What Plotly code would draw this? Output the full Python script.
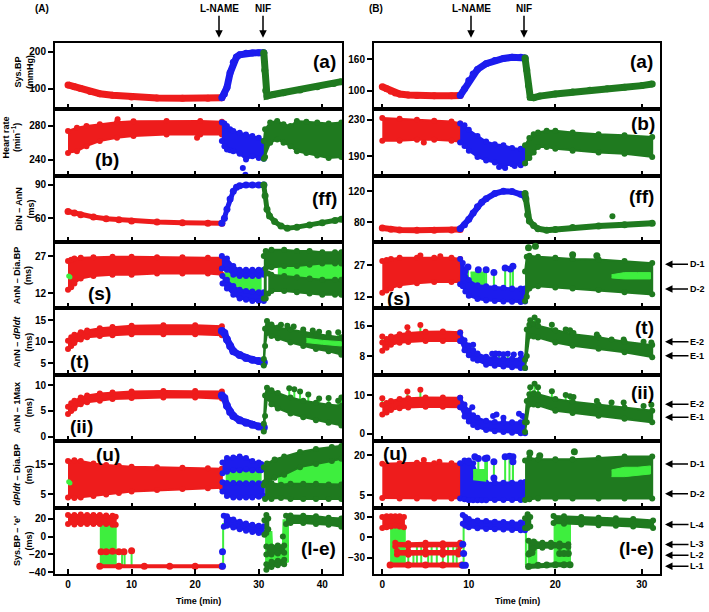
import plotly.graph_objects as go

W, H = 709, 612
RED, BLUE, DG, LG = '#EE1C1C', '#1C1CEE', '#1F7A1F', '#3EEE3E'
FONT = 'Liberation Sans'

# ======================= DATA : column (A) =======================
# (a) Sys.BP
Aa_red_t = [0, 1, 2, 3.5, 5, 7, 10, 14, 18, 22, 24.2]
Aa_red_y = [110, 105, 100, 92, 86, 82, 77, 74.5, 74, 74, 75]
Aa_blue_t = [24.2, 24.6, 25, 25.5, 26, 26.5, 27, 28, 29, 30, 30.8]
Aa_blue_y = [75, 85, 103, 143, 172, 186, 192, 196, 197, 198, 198]
Aa_green_t = [30.8, 30.95, 31.1, 31.3, 32.3, 33.9, 36.5, 39.2, 41.8, 43]
Aa_green_y = [198, 150, 95, 80, 84, 89, 96, 105, 114, 119]
# (b) Heart rate
Ab_red_t = [0, 1.4, 2.9, 5, 7.7, 10.3, 15.5, 20.8, 24.2]
Ab_red_lo = [248, 250, 256, 262, 266, 268, 270, 270, 270]
Ab_red_hi = [274, 278, 280, 282, 284.5, 285.5, 286, 286, 285]
Ab_red_dot_t = [7.8, 20.3]
Ab_red_dot_y = [288, 266]
Ab_blue_t = [24.2, 24.6, 25, 25.5, 26, 27, 28, 29, 30, 30.8]
Ab_blue_lo = [262, 256, 252, 251, 250, 247, 240, 244, 242, 241]
Ab_blue_hi = [284, 283, 280, 276, 274, 272, 270, 268, 266, 262]
Ab_blue_dot_t = [27.5, 27.9]
Ab_blue_dot_y = [230, 222]
Ab_green_t = [30.8, 31, 31.8, 32.9, 33.9, 35, 36, 37.5, 39.2, 41, 43]
Ab_green_lo = [241, 243, 260, 264, 260, 256, 250, 248, 245, 242, 243]
Ab_green_hi = [262, 276, 284, 286, 282, 280, 286, 285, 284, 283, 284]
# (ff) DiN - AnN
Aff_red_t = [0, 1, 2, 4, 6, 8, 10, 14, 18, 22, 24.2]
Aff_red_y = [66, 64.5, 63, 61, 59.5, 58.5, 57.5, 56.5, 56, 55.5, 55.5]
Aff_blue_t = [24.2, 24.6, 25, 25.5, 26, 26.5, 27, 28, 29, 30, 30.8]
Aff_blue_y = [55.5, 60, 68, 77, 84, 87.5, 89, 89.5, 89.5, 89.5, 89.5]
Aff_green_t = [30.8, 31, 31.3, 31.7, 32.5, 33.5, 34.5, 36, 38, 40, 42, 43]
Aff_green_y = [89.5, 80, 68, 62, 57, 53, 51, 52, 54, 56, 58, 59]
# (s) AnN - Dia.BP
As_red_t = [0, 0.5, 1, 2, 4, 7, 10, 14, 18, 22, 24.2]
As_red_lo = [13.5, 14.5, 16, 18, 19, 19.5, 19.5, 20, 20, 20, 19.5]
As_red_hi = [25, 25.5, 26, 26.3, 26.5, 26.7, 26.7, 26.5, 26.5, 26.3, 26.3]
As_lgdot_t = [0.1, 0.3]
As_lgdot_y = [19, 18.6]
As_blue_lg_t = [24.6, 26, 28, 30.3]
As_blue_lg_lo = [17, 14, 12.5, 12]
As_blue_lg_hi = [21.5, 20, 19.5, 19.5]
As_blue_up_t = [24.2, 25, 26, 27, 28, 29, 30, 30.8]
As_blue_up_lo = [22, 21.5, 19.5, 19, 19, 19, 19, 19.5]
As_blue_up_hi = [27, 26, 23, 21.5, 21.5, 21.5, 21.5, 21.5]
As_blue_low_t = [24.3, 25, 26, 27, 28, 29, 30, 30.8]
As_blue_low_lo = [16, 14, 11.5, 10, 9.5, 9, 9, 9]
As_blue_low_hi = [19, 17.5, 15, 13.5, 13, 12.8, 12.5, 12.5]
As_green_lg_t = [33, 36, 38, 40, 43]
As_green_lg_lo = [19, 18.5, 18, 17.5, 17.5]
As_green_lg_hi = [22.5, 23, 23.5, 24, 24]
As_green_v_t = [30.8, 31.1]
As_green_v_lo = [10, 10]
As_green_v_hi = [27, 27]
As_green_up_t = [31.1, 32, 34, 36, 38, 40, 42, 43]
As_green_up_lo = [22, 22.5, 23, 23, 23.5, 24, 24, 24]
As_green_up_hi = [29, 29.5, 29.5, 29, 29, 28.5, 28.5, 28.5]
As_green_low_t = [31.5, 32, 34, 36, 38, 40, 42, 43]
As_green_low_lo = [12, 13, 13, 12.5, 12, 11.5, 11.5, 11.5]
As_green_low_hi = [20, 19.5, 19, 18.5, 18, 17.5, 17.5, 17.5]
# (t) AnN - dP/dt
At_red_t = [0, 0.5, 1, 2, 3, 5, 7, 10, 15, 20, 24.2]
At_red_lo = [8.3, 9, 9.7, 10.5, 11, 11.3, 11.5, 11.7, 11.7, 11.7, 11.5]
At_red_hi = [10.2, 11, 11.6, 12.2, 12.6, 13.1, 13.4, 13.7, 13.8, 13.8, 13.6]
At_blue_t = [24.2, 24.6, 25, 25.5, 26, 27, 28, 29, 30, 30.8]
At_blue_y = [12.5, 12, 10.5, 9, 7.8, 6.9, 6.2, 5.8, 5.5, 5.2]
At_green_t = [30.8, 31, 31.3, 32, 33, 35, 37, 39, 41, 43]
At_green_lo = [4.5, 9, 12, 11.3, 10.8, 9.8, 9, 8.3, 7.8, 7]
At_green_hi = [6, 13, 14.8, 14, 13.3, 12.8, 12.2, 11.8, 11.4, 11]
At_green_dot_t = [33.5, 34.5, 35.5, 37, 38.5, 39.5, 41, 42.5]
At_green_dot_y = [13.9, 13.7, 13.5, 12.8, 12.6, 12.3, 12.0, 12.2]
At_green_dot_base = [13.2, 13.0, 12.8, 12.2, 11.9, 11.7, 11.4, 11.1]
At_green_lg_t = [37.5, 40, 43]
At_green_lg_lo = [9.8, 9.4, 9.0]
At_green_lg_hi = [10.8, 10.3, 10.0]
# (ii) AnN - 1Max
Aii_red_t = [0, 0.5, 1, 2, 3, 5, 7, 10, 15, 20, 24.2]
Aii_red_lo = [4.4, 5, 5.5, 6.3, 6.7, 7, 7.3, 7.5, 7.6, 7.6, 7.4]
Aii_red_hi = [5.8, 6.5, 7, 7.6, 8, 8.4, 8.6, 8.8, 8.9, 8.9, 8.8]
Aii_blue_t = [24.2, 24.6, 25, 25.5, 26, 27, 28, 29, 30, 30.8]
Aii_blue_y = [8, 7.5, 6, 4.8, 4, 3.2, 2.7, 2.3, 2, 1.8]
Aii_green_t = [30.8, 31, 31.3, 32, 33, 35, 37, 39, 41, 43]
Aii_green_lo = [1, 4, 7.5, 6.3, 5.5, 4.5, 3.8, 3.2, 2.7, 2.2]
Aii_green_hi = [2.5, 8, 9.5, 9, 8.5, 7.6, 7, 6.6, 6.2, 6]
Aii_green_dot_t = [34.8, 35.6, 36.5, 37.8, 39.5, 41, 42.5, 43]
Aii_green_dot_y = [9.4, 9.2, 8.8, 8.2, 7.4, 7.5, 7.0, 7.6]
Aii_green_dot_base = [7.4, 7.3, 7.1, 6.9, 6.6, 6.3, 6.1, 6.0]
# (u) dP/dt - Dia.BP
Au_red_t = [0, 1, 2, 4, 6, 8, 10, 14, 18, 22, 24.2]
Au_red_lo = [4, 3.8, 4, 4.5, 5, 5.5, 6, 6.5, 6.8, 7, 7.2]
Au_red_hi = [16, 16.3, 16, 15.2, 14.7, 14.4, 14.1, 14, 13.8, 13.6, 13.5]
Au_lgdot_t = [0.1, 0.3]
Au_lgdot_y = [9.2, 8.8]
Au_blue_lg_t = [24.8, 30.3]
Au_blue_lg_lo = [8.5, 8.5]
Au_blue_lg_hi = [13, 13]
Au_blue_up_t = [24.3, 25, 26, 27, 28, 29, 30, 30.4]
Au_blue_up_lo = [12, 12.5, 13, 13, 13.2, 13, 13, 13]
Au_blue_up_hi = [15.5, 17, 17.2, 17.5, 17, 16, 15.5, 15]
Au_blue_low_t = [24.3, 25, 26, 27, 28, 29, 30, 30.8]
Au_blue_low_lo = [6, 4.5, 4, 4, 4, 4, 4.2, 4.5]
Au_blue_low_hi = [9, 8.8, 8.8, 8.7, 8.7, 8.7, 8.7, 8.7]
Au_green_lg_t = [33, 36.5, 39, 41.5, 43]
Au_green_lg_lo = [8.5, 8.5, 8.3, 8.3, 8.3]
Au_green_lg_hi = [11, 14, 15, 16, 17]
Au_green_up_t = [30.8, 31.3, 32.5, 34, 36.5, 39, 41.5, 43]
Au_green_up_lo = [8, 9.3, 10.5, 11.5, 14, 15, 16, 16.8]
Au_green_up_hi = [14, 15.2, 16.5, 17.5, 19, 20, 20.6, 21]
Au_green_low_t = [31, 32, 33.5, 35, 37, 39, 41, 43]
Au_green_low_lo = [3.5, 3.5, 3.8, 3.5, 3.5, 3.5, 3.5, 3.5]
Au_green_low_hi = [9, 8.8, 8.2, 8.5, 8.5, 8.5, 8.3, 8.3]
# (l-e) Sys.BP - 'e'
Ale_lg1_t = [5.0, 7.5]
Ale_lg1_lo = [-33, -33]
Ale_lg1_hi = [14, 14]
Ale_stem_t = [8.5, 8.9, 10.0]
Ale_stem_lo = [-33, -33, -33]
Ale_stem_hi = [-17, -17, -16]
Ale_red_up_t = [0, 1, 2, 3, 4, 5, 6, 7, 7.5]
Ale_red_up_lo = [14, 13.5, 14, 14, 14, 14, 14, 13, 13]
Ale_red_up_hi = [24, 24, 24.5, 24, 24, 24, 23.5, 23, 22]
Ale_red_mid_t = [5.2, 6, 7, 8, 8.8]
Ale_red_mid_y = [-17, -17, -16.5, -17, -17]
Ale_red_dot_t = [10.0]
Ale_red_dot_y = [-16]
Ale_red_bot_t = [5, 8, 12, 16, 20, 24.2]
Ale_red_bot_y = [-33, -33, -33, -33, -33, -33]
Ale_bstem_t = [24.4]
Ale_bstem_lo = [-33]
Ale_bstem_hi = [15]
Ale_blue_dot_t = [24.3, 24.3]
Ale_blue_dot_y = [-17, -33]
Ale_blue_t = [24.5, 25, 26, 27, 28, 29, 30, 30.8]
Ale_blue_lo = [11, 12, 10, 8, 6.5, 5, 4, 4]
Ale_blue_hi = [23, 22.5, 19, 16.5, 14.5, 13, 12, 11.5]
Ale_lg2_t = [31, 32, 32.1, 33.8, 33.9, 34.6]
Ale_lg2_lo = [-36, -33, -33, -30, -30, -28]
Ale_lg2_hi = [5, 5, -10, -10, 18, 18]
Ale_green_blob_t = [30.9, 31.2, 31.5]
Ale_green_blob_lo = [2, 4, 8]
Ale_green_blob_hi = [18, 24, 20]
Ale_green_mid_t = [31.2, 32, 33, 34]
Ale_green_mid_lo = [-20, -20, -19, -18]
Ale_green_mid_hi = [-11, -11, -10, -10]
Ale_green_bot_t = [31.2, 32, 33, 34]
Ale_green_bot_lo = [-37, -34, -32, -31]
Ale_green_bot_hi = [-31, -28, -27, -26]
Ale_green_dot_t = [33.8]
Ale_green_dot_y = [0]
Ale_green_up_t = [34.3, 35, 37, 39, 41, 43]
Ale_green_up_lo = [14, 15, 15, 14, 13, 11]
Ale_green_up_hi = [23, 23.5, 23, 22.5, 21, 20]

# ======================= DATA : column (B) =======================
Ba_red_t = [0, 0.5, 1, 1.5, 2, 3, 4, 6, 8, 9]
Ba_red_y = [108, 104, 99, 96, 94, 92, 91, 90.5, 90.5, 91]
Ba_blue_t = [9, 9.5, 10, 10.5, 11, 12, 13, 14, 15, 16, 16.5]
Ba_blue_y = [91, 104, 120, 132, 141, 152, 158, 162, 164, 164, 163]
Ba_green_t = [16.5, 16.7, 16.9, 17.1, 17.5, 18.2, 20, 22, 24, 26, 28, 30, 31.2]
Ba_green_y = [163, 140, 110, 88, 87, 90, 94, 98, 101, 104, 107, 110, 113]

Bb_red_t = [0, 2, 4, 6, 8, 9]
Bb_red_lo = [207, 207, 208, 208, 207, 206]
Bb_red_hi = [232, 231, 230, 229, 228, 226]
Bb_red_dot_t = [4.8]
Bb_red_dot_y = [205]
Bb_blue_t = [9, 9.5, 10, 11, 12, 13, 14, 15, 16, 16.5]
Bb_blue_lo = [205, 201, 196, 189, 185, 183, 179, 181, 180, 182]
Bb_blue_hi = [226, 224, 219, 212, 206, 203, 202, 199, 198, 197]
Bb_blue_dot_t = [13.5, 14.2, 15.3]
Bb_blue_dot_y = [178, 177, 179]
Bb_green_t = [16.5, 17, 17.5, 18, 19, 20, 22, 25, 28, 31.2]
Bb_green_lo = [182, 188, 194, 200, 200, 198, 196, 194, 192.5, 189]
Bb_green_hi = [202, 210, 214, 216, 218, 218, 216, 214, 213, 211]

Bff_red_t = [0, 1, 2, 4, 6, 8, 9]
Bff_red_y = [73, 71.5, 70.5, 70, 70, 70.5, 71]
Bff_blue_t = [9, 9.5, 10, 10.5, 11, 11.5, 12, 13, 14, 15, 16, 16.5]
Bff_blue_y = [72, 77, 84, 92, 100, 106, 110.5, 117, 120, 119.5, 116, 113]
Bff_green_t = [16.5, 16.6, 16.8, 17, 17.5, 18, 19, 20, 22, 25, 28, 31.2]
Bff_green_y = [117, 110, 90, 82, 76, 72, 70, 71, 73.5, 75.5, 77, 79]
Bff_green_dot_t = [26.6]
Bff_green_dot_y = [88]

Bs_red_t = [0, 0.5, 1, 2, 4, 6, 8, 9]
Bs_red_lo = [14, 15, 16, 17.5, 18.5, 19, 19, 19]
Bs_red_hi = [29, 29.5, 30, 30.5, 30.5, 30.5, 30.5, 30]
Bs_red_dot_t = [4.4, 6.7]
Bs_red_dot_y = [31.6, 31.2]
Bs_lg_blue_t = [10.2, 11.8]
Bs_lg_blue_lo = [17.5, 17]
Bs_lg_blue_hi = [23.5, 23.5]
Bs_blue_t = [9, 9.3, 9.6, 10, 11, 12, 13, 14, 15, 16, 16.5]
Bs_blue_lo = [18, 17, 14.5, 12.5, 11, 10.3, 10, 9.8, 9.7, 9.6, 9.8]
Bs_blue_hi = [30, 28, 24, 20, 17.5, 17, 16.5, 16.3, 16, 16, 16]
Bs_blue_dot_t = [9.9, 11.1, 12.0, 12.9, 14.2, 14.8, 15.1]
Bs_blue_dot_y = [26.2, 24.9, 24.9, 23.6, 25.7, 25.2, 26.5]
Bs_blue_dot_base = [20, 17.5, 17, 16.5, 16.3, 16, 16]
Bs_green_t = [16.5, 16.7, 17, 18, 20, 22, 25, 28, 31.2]
Bs_green_lo = [10, 12, 16, 17, 16.5, 16, 15.2, 14.2, 13.2]
Bs_green_hi = [24, 31, 31.5, 31, 30.5, 30, 29.7, 29, 28]
Bs_green_dot_t = [16.9, 17.7, 22, 24.8]
Bs_green_dot_y = [35.3, 36, 32, 31.5]
Bs_lg_t = [26.5, 28, 29.5, 31]
Bs_lg_lo = [21, 20.5, 20.5, 20.5]
Bs_lg_hi = [22.5, 23.5, 23.5, 23.5]

Bt_red_t = [0, 0.5, 1, 2, 3, 5, 7, 9]
Bt_red_lo = [9.4, 10.2, 11, 11.5, 11.7, 12, 12, 12]
Bt_red_hi = [11.6, 12.5, 13.2, 13.8, 14.1, 14.4, 14.5, 14.3]
Bt_red_dot_t = [0, 2.9, 4.4]
Bt_red_dot_y = [13.2, 15.6, 16.2]
Bt_red_dot_base = [11.6, 13.9, 14.3]
Bt_blue_t = [9, 9.5, 10, 10.5, 11, 12, 13, 14, 15, 16, 16.5]
Bt_blue_lo = [12, 9.5, 8.2, 7.3, 6.8, 5.7, 5.4, 5.2, 5, 4.8, 4.8]
Bt_blue_hi = [14.2, 12.2, 10.8, 9.5, 8.7, 7.8, 7.5, 7.3, 7.3, 7.3, 7.5]
Bt_blue_dot_t = [10.5, 12.7, 13.1, 13.5, 14.0, 14.5, 15.2, 16.0]
Bt_blue_dot_y = [11.0, 8.6, 8.7, 8.6, 8.5, 8.6, 8.4, 8.6]
Bt_blue_dot_base = [9.5, 7.6, 7.5, 7.4, 7.3, 7.3, 7.3, 7.3]
Bt_green_t = [16.5, 16.7, 17, 17.5, 18, 20, 22, 25, 28, 31.2]
Bt_green_lo = [4.8, 8, 13.3, 13.2, 12.9, 11.6, 10.7, 9.9, 9, 7.7]
Bt_green_hi = [7, 15, 16.3, 16.5, 16, 14.8, 13.8, 13, 11.8, 10.9]
Bt_green_dot_t = [17.1, 17.6, 18.0, 19.6, 21.2, 21.7, 22.1, 24.8, 26.5, 27.9, 30.2, 31.1]
Bt_green_dot_y = [17.5, 18.2, 17.3, 16.3, 15.0, 14.8, 14.1, 13.7, 12.4, 12.4, 11.8, 11.6]
Bt_green_dot_base = [16.3, 16.4, 16.0, 14.9, 14.2, 14.0, 13.8, 13.0, 12.4, 11.9, 11.3, 10.9]

Bii_red_t = [0, 0.5, 1, 2, 3, 5, 7, 9]
Bii_red_lo = [5, 5.5, 6.2, 6.6, 6.8, 7, 7, 6.9]
Bii_red_hi = [7.5, 8, 8.5, 9, 9.2, 9.4, 9.4, 9.3]
Bii_red_dot_t = [0, 2.9, 4.4]
Bii_red_dot_y = [9.2, 10.9, 11.4]
Bii_red_dot_base = [7.5, 9.2, 9.3]
Bii_blue_t = [9, 9.5, 10, 10.5, 11, 12, 13, 14, 15, 16, 16.5]
Bii_blue_lo = [6.9, 4.5, 3.2, 2.3, 1.7, 1, 0.7, 0.5, 0.3, 0.2, 0.2]
Bii_blue_hi = [9.3, 7.6, 6, 4.8, 4.2, 3.4, 3.1, 3, 3, 3, 3.5]
Bii_blue_dot_t = [10.4, 12.8, 13.2, 14.0, 15.8, 16.2]
Bii_blue_dot_y = [6.9, 4.6, 5.0, 4.2, 5.2, 4.6]
Bii_green_t = [16.5, 16.7, 17, 17.5, 18, 20, 22, 25, 28, 31.2]
Bii_green_lo = [0.5, 3, 7.6, 7.6, 7.4, 6, 5.4, 4.7, 3.9, 3]
Bii_green_hi = [3, 8.5, 10.2, 10.5, 10.2, 9, 8.3, 7.5, 6.8, 6]
Bii_green_dot_t = [17.1, 17.6, 18.0, 19.6, 21.2, 21.7, 22.1, 24.8, 26.5, 27.9, 30.2, 31.1]
Bii_green_dot_y = [12.0, 12.9, 12.0, 11.0, 10.0, 9.7, 9.5, 8.5, 8.1, 8.1, 7.2, 7.5]
Bii_green_dot_base = [10.2, 10.4, 10.2, 9.1, 8.5, 8.3, 8.2, 7.5, 7.2, 6.9, 6.4, 6.0]

Bu_red_t = [0, 2, 4, 6, 8, 9]
Bu_red_lo = [4, 3.8, 3.8, 3.8, 3.8, 4]
Bu_red_hi = [16.8, 17, 17.2, 17, 17, 16.8]
Bu_red_dot_t = [4.8, 6.6]
Bu_red_dot_y = [18.2, 17.6]
Bu_blue_t = [9, 9.5, 10, 10.5, 11, 11.5, 12, 13, 14, 15, 16, 16.5]
Bu_blue_lo = [3.8, 3.5, 3.2, 3.2, 3.2, 3.2, 3.2, 3.3, 3.3, 3.3, 3.3, 3.5]
Bu_blue_hi = [17, 18, 18, 17, 13, 10.5, 9.7, 9.7, 9.7, 9.7, 9.8, 10]
Bu_lg_blue_t = [10.5, 11, 11.9]
Bu_lg_blue_lo = [11, 11, 10.5]
Bu_lg_blue_hi = [14.5, 14.5, 14.5]
Bu_blue_dot_t = [9.94, 10.7, 11.1, 11.9, 12.1, 12.9, 12.9, 14.2, 14.7, 15.1, 15.1]
Bu_blue_dot_y = [17.6, 19.4, 18.8, 18.8, 19.0, 17.6, 11.5, 19.4, 19.6, 19.4, 17.6]
Bu_blue_dot_base = [17.6, 18, 14, 9.7, 9.7, 9.7, 9.7, 9.7, 9.7, 9.7, 9.7]
Bu_green_t = [16.5, 17, 18, 20, 22, 25, 28, 31.2]
Bu_green_lo = [3.3, 3.5, 3.8, 3.8, 3.8, 3.8, 3.8, 3.8]
Bu_green_hi = [18, 19, 18.5, 18.5, 18.5, 19, 19.5, 19.5]
Bu_green_dot_t = [17.05, 18.2, 22.2]
Bu_green_dot_y = [20.8, 19.8, 21.3]
Bu_lg_t = [26.5, 28, 29.5, 31]
Bu_lg_lo = [12, 12, 12.5, 13]
Bu_lg_hi = [14.5, 15.5, 15.5, 16]

Ble_lg1_t = [0.9, 2.6]
Ble_lg1_lo = [-41, -41]
Ble_lg1_hi = [15, 15]
Ble_stem_t = [3.0, 3.6, 4.0, 4.5, 5.3, 5.7, 6.3, 7.0, 7.6, 8.2, 8.6]
Ble_stem_lo = [-40, -40, -40, -40, -40, -40, -40, -40, -40, -40, -40]
Ble_stem_hi = [-10, -22, -10, -10, -22, -10, -10, -22, -10, -10, -10]
Ble_red_up_t = [0, 0.5, 1, 1.5, 2, 2.5]
Ble_red_up_lo = [14, 15, 16, 17, 16, 15]
Ble_red_up_hi = [30, 31, 31, 31, 31, 30]
Ble_red_m1_t = [1.5, 3, 5, 7, 9]
Ble_red_m1_lo = [-13, -13.5, -13, -13.5, -13]
Ble_red_m1_hi = [-8, -8.5, -8, -8.5, -8]
Ble_red_m2_t = [1.7, 3, 5, 7, 8.8]
Ble_red_m2_lo = [-25, -25.5, -25, -25.5, -25]
Ble_red_m2_hi = [-20, -20, -19.5, -20, -20]
Ble_red_bot_t = [0.9, 3, 5, 7, 9.2]
Ble_red_bot_y = [-40.5, -40.5, -40.5, -40.5, -40.5]
Ble_bstem_t = [9.4, 16.6]
Ble_bstem_lo = [-41, -41]
Ble_bstem_hi = [20, 14]
Ble_blue_dot_t = [9.3, 9.4, 9.3, 9.6]
Ble_blue_dot_y = [-10, -23.5, -41, -41]
Ble_blue_t = [9.3, 9.6, 10, 11, 12, 13, 14, 15, 16, 16.5]
Ble_blue_lo = [20, 17, 15, 13.5, 12.5, 12, 11.5, 11, 10.5, 10.5]
Ble_blue_hi = [33, 30, 27, 25, 24, 23, 22.5, 22, 22, 22]
Ble_lg2_t = [16.8, 17.8]
Ble_lg2_lo = [-41, -41]
Ble_lg2_hi = [-5, -5]
Ble_lg3_t = [19.8, 21.7]
Ble_lg3_lo = [-41, -41]
Ble_lg3_hi = [25, 25]
Ble_green_blob_t = [16.5, 16.8, 17.1]
Ble_green_blob_lo = [14, 14, 16]
Ble_green_blob_hi = [28, 34, 30]
Ble_green_mid_t = [16.9, 17.5, 18.5, 19.5, 20.5, 21.5]
Ble_green_mid_lo = [-25, -16, -15, -14, -14, -14]
Ble_green_mid_hi = [-5, -6, -8, -8, -9, -10]
Ble_green_m2_t = [17.0, 17.3, 20.5, 21.0, 21.5]
Ble_green_m2_y = [-23.5, -22, -23.5, -23.5, -23.5]
Ble_green_bot_t = [16.9, 18, 19, 20, 21, 21.7]
Ble_green_bot_y = [-42.5, -41, -40.5, -40, -40, -40]
Ble_green_up_t = [19.8, 21, 23, 25, 27, 29, 31.3]
Ble_green_up_lo = [21, 20, 19, 18, 17, 16, 14]
Ble_green_up_hi = [31.5, 31, 30, 29, 28, 27, 25]

# ======================= AXES / TEXT =======================
XPIX = [(55, 342), (374, 660)]
TOP, PH = 43, 66.875
XRANGE = [[-2.05, 43.1], [-0.96, 32.1]]
XTICKS = [[0, 10, 20, 30, 40], [0, 10, 20, 30]]
YRANGE = [
    [[44, 225], [221, 300], [38.7, 98], [6, 32.6], [2.3, 17.7], [-0.9, 12], [0.6, 22.5], [-42, 32]],
    [[65, 192], [168.5, 241.7], [55, 140], [6.5, 38], [3, 20.6], [-1.9, 15.2], [0.35, 25.2], [-54, 43.5]],
]
YTICKS = [
    [[100, 200], [240, 280], [60, 90], [12, 27], [5, 10, 15], [0, 5, 10], [5, 15], [-40, -20, 0, 20]],
    [[100, 160], [190, 230], [80, 120], [12, 27], [8, 16], [0, 10], [5, 20], [-30, 0, 30]],
]
YTITLES = ["Sys.BP<br>(mmHg)", "Heart rate<br>(min<sup>−1</sup>)", "DiN – AnN<br>(ms)",
           "AnN – Dia.BP<br>(ms)", "AnN – <i>dP</i>/<i>dt</i><br>(ms)", "AnN – 1Max<br>(ms)",
           "<i>dP</i>/<i>dt</i> – Dia.BP<br>(ms)", "Sys.BP – 'e'<br>(ms)"]
YTITLE_X = [24, 12, 25, 23, 23, 23, 23, 23]
YTITLE_DY = [-4, -5, 0, 0, 0, 0, 0, 0]
LETTERS = ["(a)", "(b)", "(ff)", "(s)", "(t)", "(ii)", "(u)", "(l-e)"]
LETTER_POS = [
    [(324, 62), (107, 161), (324, 200), (99, 295), (79, 364), (81, 429), (108, 457), (318, 552)],
    [(641, 62), (643, 124), (641, 198), (398, 300), (644, 330), (642, 395), (395, 456), (636, 552)],
]
RIGHT_ARROWS = [("D-1", 266), ("D-2", 291), ("E-2", 344), ("E-1", 358), ("E-2", 407), ("E-1", 420),
                ("D-1", 467), ("D-2", 497), ("L-4", 528), ("L-3", 548), ("L-2", 559), ("L-1", 570)]
TOP_LABELS = [("(A)", 42, False), ("L-NAME", 219, True), ("NIF", 263, True),
              ("(B)", 376, False), ("L-NAME", 471, True), ("NIF", 524, True)]

fig = go.Figure()


def axn(col, row):
    n = col * 8 + row + 1
    return ('x' if n == 1 else f'x{n}'), ('y' if n == 1 else f'y{n}')


def band(col, row, t, lo, hi, color, ms=6, lw=2):
    xa, ya = axn(col, row)
    t = list(t)
    fig.add_trace(go.Scatter(x=t + t[::-1], y=list(hi) + list(lo)[::-1], fill='toself',
                             fillcolor=color, mode='lines', line=dict(color=color, width=lw),
                             xaxis=xa, yaxis=ya, hoverinfo='skip', showlegend=False))
    if ms:
        fig.add_trace(go.Scatter(x=t + t, y=list(hi) + list(lo), mode='markers',
                                 marker=dict(color=color, size=ms), xaxis=xa, yaxis=ya,
                                 hoverinfo='skip', showlegend=False))


def line(col, row, t, y, color, lw=7, ms=7):
    xa, ya = axn(col, row)
    fig.add_trace(go.Scatter(x=t, y=y, mode='lines+markers', line=dict(color=color, width=lw),
                             marker=dict(color=color, size=ms), xaxis=xa, yaxis=ya,
                             hoverinfo='skip', showlegend=False))


def dots(col, row, t, y, color, ms=6):
    xa, ya = axn(col, row)
    fig.add_trace(go.Scatter(x=t, y=y, mode='markers', marker=dict(color=color, size=ms),
                             xaxis=xa, yaxis=ya, hoverinfo='skip', showlegend=False))


def stems(col, row, t, y0, y1, color=LG, lw=2):
    xa, ya = axn(col, row)
    xs, ys = [], []
    for a, b, c in zip(t, y0, y1):
        xs += [a, a, None]
        ys += [b, c, None]
    fig.add_trace(go.Scatter(x=xs, y=ys, mode='lines', line=dict(color=color, width=lw),
                             xaxis=xa, yaxis=ya, hoverinfo='skip', showlegend=False))


# ---------------- column A ----------------
line(0, 0, Aa_red_t, Aa_red_y, RED)
line(0, 0, Aa_blue_t, Aa_blue_y, BLUE)
line(0, 0, Aa_green_t, Aa_green_y, DG)

band(0, 1, Ab_red_t, Ab_red_lo, Ab_red_hi, RED)
dots(0, 1, Ab_red_dot_t, Ab_red_dot_y, RED)
band(0, 1, Ab_blue_t, Ab_blue_lo, Ab_blue_hi, BLUE)
dots(0, 1, Ab_blue_dot_t, Ab_blue_dot_y, BLUE)
band(0, 1, Ab_green_t, Ab_green_lo, Ab_green_hi, DG)

line(0, 2, Aff_red_t, Aff_red_y, RED, lw=5)
line(0, 2, Aff_blue_t, Aff_blue_y, BLUE, lw=5)
line(0, 2, Aff_green_t, Aff_green_y, DG, lw=5)

band(0, 3, As_red_t, As_red_lo, As_red_hi, RED)
dots(0, 3, As_lgdot_t, As_lgdot_y, LG, ms=5)
band(0, 3, As_blue_lg_t, As_blue_lg_lo, As_blue_lg_hi, LG, ms=0)
band(0, 3, As_blue_up_t, As_blue_up_lo, As_blue_up_hi, BLUE)
band(0, 3, As_blue_low_t, As_blue_low_lo, As_blue_low_hi, BLUE)
band(0, 3, As_green_lg_t, As_green_lg_lo, As_green_lg_hi, LG, ms=0)
band(0, 3, As_green_v_t, As_green_v_lo, As_green_v_hi, DG)
band(0, 3, As_green_up_t, As_green_up_lo, As_green_up_hi, DG)
band(0, 3, As_green_low_t, As_green_low_lo, As_green_low_hi, DG)

band(0, 4, At_red_t, At_red_lo, At_red_hi, RED)
line(0, 4, At_blue_t, At_blue_y, BLUE, lw=7, ms=8)
stems(0, 4, At_green_dot_t, At_green_dot_base, At_green_dot_y)
band(0, 4, At_green_t, At_green_lo, At_green_hi, DG)
band(0, 4, At_green_lg_t, At_green_lg_lo, At_green_lg_hi, LG, ms=0, lw=1)
dots(0, 4, At_green_dot_t, At_green_dot_y, DG)

band(0, 5, Aii_red_t, Aii_red_lo, Aii_red_hi, RED)
line(0, 5, Aii_blue_t, Aii_blue_y, BLUE, lw=7, ms=8)
stems(0, 5, Aii_green_dot_t, Aii_green_dot_base, Aii_green_dot_y)
band(0, 5, Aii_green_t, Aii_green_lo, Aii_green_hi, DG)
dots(0, 5, Aii_green_dot_t, Aii_green_dot_y, DG)

band(0, 6, Au_red_t, Au_red_lo, Au_red_hi, RED)
dots(0, 6, Au_lgdot_t, Au_lgdot_y, LG, ms=5)
band(0, 6, Au_blue_lg_t, Au_blue_lg_lo, Au_blue_lg_hi, LG, ms=0)
band(0, 6, Au_blue_up_t, Au_blue_up_lo, Au_blue_up_hi, BLUE)
band(0, 6, Au_blue_low_t, Au_blue_low_lo, Au_blue_low_hi, BLUE)
band(0, 6, Au_green_lg_t, Au_green_lg_lo, Au_green_lg_hi, LG, ms=0)
band(0, 6, Au_green_up_t, Au_green_up_lo, Au_green_up_hi, DG)
band(0, 6, Au_green_low_t, Au_green_low_lo, Au_green_low_hi, DG)

band(0, 7, Ale_lg1_t, Ale_lg1_lo, Ale_lg1_hi, LG, ms=0)
stems(0, 7, Ale_stem_t, Ale_stem_lo, Ale_stem_hi)
band(0, 7, Ale_red_up_t, Ale_red_up_lo, Ale_red_up_hi, RED)
line(0, 7, Ale_red_mid_t, Ale_red_mid_y, RED, lw=4)
dots(0, 7, Ale_red_dot_t, Ale_red_dot_y, RED, ms=7)
line(0, 7, Ale_red_bot_t, Ale_red_bot_y, RED, lw=4)
stems(0, 7, Ale_bstem_t, Ale_bstem_lo, Ale_bstem_hi)
dots(0, 7, Ale_blue_dot_t, Ale_blue_dot_y, BLUE, ms=7)
band(0, 7, Ale_blue_t, Ale_blue_lo, Ale_blue_hi, BLUE)
band(0, 7, Ale_lg2_t, Ale_lg2_lo, Ale_lg2_hi, LG, ms=0)
band(0, 7, Ale_green_blob_t, Ale_green_blob_lo, Ale_green_blob_hi, DG)
band(0, 7, Ale_green_mid_t, Ale_green_mid_lo, Ale_green_mid_hi, DG)
band(0, 7, Ale_green_bot_t, Ale_green_bot_lo, Ale_green_bot_hi, DG)
dots(0, 7, Ale_green_dot_t, Ale_green_dot_y, DG)
band(0, 7, Ale_green_up_t, Ale_green_up_lo, Ale_green_up_hi, DG)

# ---------------- column B ----------------
line(1, 0, Ba_red_t, Ba_red_y, RED)
line(1, 0, Ba_blue_t, Ba_blue_y, BLUE)
line(1, 0, Ba_green_t, Ba_green_y, DG)

band(1, 1, Bb_red_t, Bb_red_lo, Bb_red_hi, RED)
dots(1, 1, Bb_red_dot_t, Bb_red_dot_y, RED)
band(1, 1, Bb_blue_t, Bb_blue_lo, Bb_blue_hi, BLUE)
dots(1, 1, Bb_blue_dot_t, Bb_blue_dot_y, BLUE)
band(1, 1, Bb_green_t, Bb_green_lo, Bb_green_hi, DG)

line(1, 2, Bff_red_t, Bff_red_y, RED, lw=6)
line(1, 2, Bff_blue_t, Bff_blue_y, BLUE, lw=6)
line(1, 2, Bff_green_t, Bff_green_y, DG, lw=6)
dots(1, 2, Bff_green_dot_t, Bff_green_dot_y, DG)

band(1, 3, Bs_red_t, Bs_red_lo, Bs_red_hi, RED)
dots(1, 3, Bs_red_dot_t, Bs_red_dot_y, RED)
band(1, 3, Bs_lg_blue_t, Bs_lg_blue_lo, Bs_lg_blue_hi, LG, ms=0)
stems(1, 3, Bs_blue_dot_t, Bs_blue_dot_base, Bs_blue_dot_y)
band(1, 3, Bs_blue_t, Bs_blue_lo, Bs_blue_hi, BLUE)
dots(1, 3, Bs_blue_dot_t, Bs_blue_dot_y, BLUE, ms=7)
band(1, 3, Bs_green_t, Bs_green_lo, Bs_green_hi, DG)
dots(1, 3, Bs_green_dot_t, Bs_green_dot_y, DG, ms=7)
band(1, 3, Bs_lg_t, Bs_lg_lo, Bs_lg_hi, LG, ms=0, lw=1)

stems(1, 4, Bt_red_dot_t, Bt_red_dot_base, Bt_red_dot_y)
band(1, 4, Bt_red_t, Bt_red_lo, Bt_red_hi, RED)
dots(1, 4, Bt_red_dot_t, Bt_red_dot_y, RED)
stems(1, 4, Bt_blue_dot_t, Bt_blue_dot_base, Bt_blue_dot_y)
band(1, 4, Bt_blue_t, Bt_blue_lo, Bt_blue_hi, BLUE)
dots(1, 4, Bt_blue_dot_t, Bt_blue_dot_y, BLUE)
stems(1, 4, Bt_green_dot_t, Bt_green_dot_base, Bt_green_dot_y)
band(1, 4, Bt_green_t, Bt_green_lo, Bt_green_hi, DG)
dots(1, 4, Bt_green_dot_t, Bt_green_dot_y, DG)

stems(1, 5, Bii_red_dot_t, Bii_red_dot_base, Bii_red_dot_y)
band(1, 5, Bii_red_t, Bii_red_lo, Bii_red_hi, RED)
dots(1, 5, Bii_red_dot_t, Bii_red_dot_y, RED)
band(1, 5, Bii_blue_t, Bii_blue_lo, Bii_blue_hi, BLUE)
dots(1, 5, Bii_blue_dot_t, Bii_blue_dot_y, BLUE)
stems(1, 5, Bii_green_dot_t, Bii_green_dot_base, Bii_green_dot_y)
band(1, 5, Bii_green_t, Bii_green_lo, Bii_green_hi, DG)
dots(1, 5, Bii_green_dot_t, Bii_green_dot_y, DG)

band(1, 6, Bu_red_t, Bu_red_lo, Bu_red_hi, RED)
dots(1, 6, Bu_red_dot_t, Bu_red_dot_y, RED)
stems(1, 6, Bu_blue_dot_t, Bu_blue_dot_base, Bu_blue_dot_y)
band(1, 6, Bu_blue_t, Bu_blue_lo, Bu_blue_hi, BLUE)
band(1, 6, Bu_lg_blue_t, Bu_lg_blue_lo, Bu_lg_blue_hi, LG, ms=0)
dots(1, 6, Bu_blue_dot_t, Bu_blue_dot_y, BLUE, ms=7)
band(1, 6, Bu_green_t, Bu_green_lo, Bu_green_hi, DG)
dots(1, 6, Bu_green_dot_t, Bu_green_dot_y, DG, ms=7)
band(1, 6, Bu_lg_t, Bu_lg_lo, Bu_lg_hi, LG, ms=0, lw=1)

band(1, 7, Ble_lg1_t, Ble_lg1_lo, Ble_lg1_hi, LG, ms=0)
stems(1, 7, Ble_stem_t, Ble_stem_lo, Ble_stem_hi)
band(1, 7, Ble_red_up_t, Ble_red_up_lo, Ble_red_up_hi, RED)
band(1, 7, Ble_red_m1_t, Ble_red_m1_lo, Ble_red_m1_hi, RED)
band(1, 7, Ble_red_m2_t, Ble_red_m2_lo, Ble_red_m2_hi, RED)
line(1, 7, Ble_red_bot_t, Ble_red_bot_y, RED, lw=5)
stems(1, 7, Ble_bstem_t, Ble_bstem_lo, Ble_bstem_hi)
dots(1, 7, Ble_blue_dot_t, Ble_blue_dot_y, BLUE, ms=7)
band(1, 7, Ble_blue_t, Ble_blue_lo, Ble_blue_hi, BLUE)
band(1, 7, Ble_lg2_t, Ble_lg2_lo, Ble_lg2_hi, LG, ms=0)
band(1, 7, Ble_lg3_t, Ble_lg3_lo, Ble_lg3_hi, LG, ms=0)
band(1, 7, Ble_green_blob_t, Ble_green_blob_lo, Ble_green_blob_hi, DG)
band(1, 7, Ble_green_mid_t, Ble_green_mid_lo, Ble_green_mid_hi, DG)
dots(1, 7, Ble_green_m2_t, Ble_green_m2_y, DG, ms=7)
line(1, 7, Ble_green_bot_t, Ble_green_bot_y, DG, lw=5)
band(1, 7, Ble_green_up_t, Ble_green_up_lo, Ble_green_up_hi, DG)

# ---------------- layout ----------------
layout = dict(width=W, height=H, margin=dict(l=0, r=0, t=0, b=0),
              paper_bgcolor='white', plot_bgcolor='white', showlegend=False)
tickfont = dict(family=FONT, size=10, color='black', weight='bold')


def fmt(v):
    return str(v).replace('-', '−')


for col in range(2):
    for row in range(8):
        n = col * 8 + row + 1
        xk = 'xaxis' if n == 1 else f'xaxis{n}'
        yk = 'yaxis' if n == 1 else f'yaxis{n}'
        xa, ya = axn(col, row)
        y_top = TOP + row * PH
        y_bot = y_top + PH
        layout[xk] = dict(domain=[XPIX[col][0] / W, XPIX[col][1] / W], anchor=ya,
                          range=XRANGE[col], tickvals=XTICKS[col],
                          ticktext=[fmt(v) for v in XTICKS[col]],
                          showticklabels=(row == 7), ticks='inside', ticklen=5, tickwidth=1.5,
                          tickcolor='black', showline=True, mirror=True, linewidth=2,
                          linecolor='black', showgrid=False, zeroline=False, tickfont=tickfont)
        layout[yk] = dict(domain=[1 - y_bot / H, 1 - y_top / H], anchor=xa,
                          range=YRANGE[col][row], tickvals=YTICKS[col][row],
                          ticktext=[fmt(v) for v in YTICKS[col][row]],
                          ticks='outside', ticklen=5, tickwidth=1.5, tickcolor='black',
                          showline=True, mirror=True, linewidth=2, linecolor='black',
                          showgrid=False, zeroline=False, tickfont=tickfont)

ann = []
bold = dict(family=FONT, color='black', weight='bold')
for row in range(8):
    yc = TOP + (row + 0.5) * PH + YTITLE_DY[row]
    ann.append(dict(text=YTITLES[row], x=YTITLE_X[row] / W, y=1 - yc / H, xref='paper', yref='paper',
                    showarrow=False, textangle=-90, xanchor='center', yanchor='middle',
                    font=dict(bold, size=9)))
for col in range(2):
    for row in range(8):
        px, py = LETTER_POS[col][row]
        ann.append(dict(text=LETTERS[row], x=px / W, y=1 - py / H, xref='paper', yref='paper',
                        showarrow=False, xanchor='center', yanchor='middle',
                        font=dict(bold, size=19)))
    ann.append(dict(text='Time (min)', x=(XPIX[col][0] + XPIX[col][1]) / 2 / W, y=1 - 605 / H,
                    xref='paper', yref='paper', showarrow=False, xanchor='center',
                    yanchor='middle', font=dict(bold, size=9)))
for txt, py in RIGHT_ARROWS:
    ann.append(dict(text=txt, x=665 / W, y=1 - py / H, xref='paper', yref='paper',
                    showarrow=True, ax=32, ay=0, arrowhead=2, arrowsize=1, arrowwidth=1.5,
                    arrowcolor='black', font=dict(bold, size=9)))
for txt, px, arrow in TOP_LABELS:
    if arrow:
        ann.append(dict(text=txt, x=px / W, y=1 - 38 / H, xref='paper', yref='paper',
                        showarrow=True, ax=0, ay=-29, arrowhead=2, arrowsize=1, arrowwidth=1.5,
                        arrowcolor='black', font=dict(bold, size=10)))
    else:
        ann.append(dict(text=txt, x=px / W, y=1 - 9 / H, xref='paper', yref='paper',
                        showarrow=False, xanchor='center', yanchor='middle',
                        font=dict(bold, size=10)))
layout['annotations'] = ann
fig.update_layout(**layout)
fig.write_html("out.html")
